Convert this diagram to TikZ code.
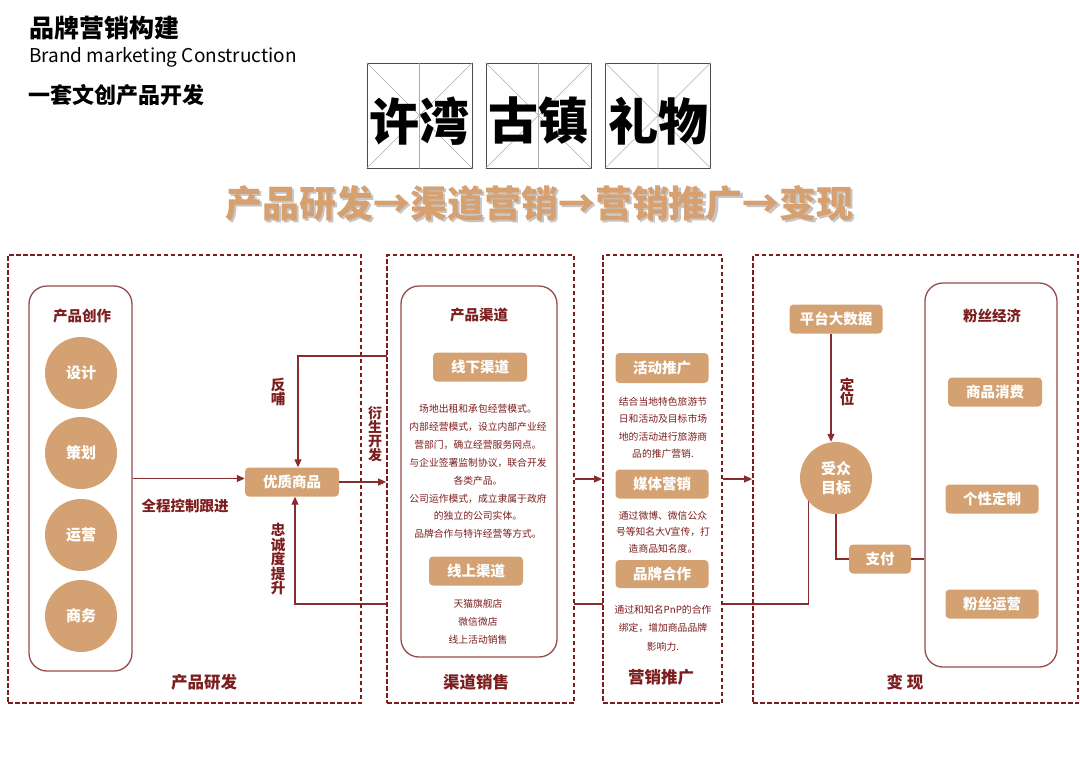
\documentclass[tikz,border=0pt]{standalone}
\usepackage{fontspec}
\setmainfont{Noto Sans CJK SC}
\usetikzlibrary{arrows.meta,backgrounds}
\definecolor{brandred}{RGB}{125,30,30}
\definecolor{linered}{RGB}{135,45,45}
\definecolor{framered}{RGB}{150,75,75}
\definecolor{tanfill}{RGB}{212,162,114}
\definecolor{tantext}{RGB}{214,160,112}

\tikzset{
    panel/.style={draw=brandred,line width=1.8pt,dash pattern=on 4.5pt off 2.5pt,inner sep=0pt},
    roundbox/.style={draw=framered,line width=1.3pt,rounded corners=18pt,inner sep=0pt},
    tanbox/.style={fill=tanfill,rounded corners=4pt,text=white,inner sep=0pt,
        minimum width=94pt,minimum height=29pt,font=\bfseries\fontsize{14.5}{16}\selectfont},
    tancirc/.style={circle,fill=tanfill,minimum size=72pt,inner sep=0pt,text=white,
        align=center,font=\bfseries\fontsize{15}{19}\selectfont},
    heading/.style={text=brandred,inner sep=0pt,font=\bfseries\fontsize{14.5}{16}\selectfont},
    bottomlabel/.style={text=brandred,inner sep=0pt,font=\bfseries\fontsize{16.5}{18}\selectfont},
    smalltext/.style={text=brandred,align=center,inner sep=0pt},
    vlabel/.style={text=brandred,align=center,inner sep=0pt,font=\bfseries\fontsize{14.5}{14.5}\selectfont},
    arr/.style={draw=linered,line width=1.1pt,-{Triangle[length=8pt,width=7pt]}},
    link/.style={draw=linered,line width=1.1pt},
    titlebox/.style={draw=black!70,line width=1pt,minimum size=105pt,inner sep=0pt},
    titletext/.style={inner sep=0pt,font=\bfseries\fontsize{50}{52}\selectfont}
}

\begin{document}
\begin{tikzpicture}[x=1pt,y=-1pt]

\useasboundingbox (0,0) rectangle (1080,772);

% Header
\node[anchor=west,inner sep=0pt,font=\bfseries\fontsize{25}{28}\selectfont] (head) at (29,28) {品牌营销构建};
\node[anchor=west,inner sep=0pt,font=\fontsize{19}{22}\selectfont] (headen) at (29,57) {Brand marketing Construction};
\node[anchor=west,inner sep=0pt,font=\bfseries\fontsize{22}{24}\selectfont] (subhead) at (28,95) {一套文创产品开发};

% Title boxes
\foreach \name/\x/\txt in {t1/419.5/许湾,t2/538.5/古镇,t3/658/礼物}{
    \node[titlebox] (\name) at (\x,115.5) {};
    \draw[gray!65,line width=0.6pt]
        (\name.north west) -- (\name.south east)
        (\name.north east) -- (\name.south west)
        (\name.north) -- (\name.south);
    \node[titletext] (\name txt) at (\x,121) {\txt};
}

% Flow line
\node[inner sep=0pt,text=gray,opacity=0.45,font=\bfseries\fontsize{37}{40}\selectfont] (flowshadow) at (541.5,205) {产品研发→渠道营销→营销推广→变现};
\node[inner sep=0pt,text=tantext,font=\bfseries\fontsize{37}{40}\selectfont] (flow) at (539.5,203) {产品研发→渠道营销→营销推广→变现};

% Panels
\node[panel,minimum width=353pt,minimum height=448pt] (p1) at (184.5,479) {};
\node[panel,fill=white,minimum width=187pt,minimum height=448pt] (p2) at (480.5,479) {};
\node[panel,fill=white,minimum width=119pt,minimum height=448pt] (p3) at (662.5,479) {};
\node[panel,minimum width=325pt,minimum height=448pt] (p4) at (915.5,479) {};

\node[bottomlabel] (p1lab) at (204,682) {产品研发};
\node[bottomlabel] (p2lab) at (476,682) {渠道销售};
\node[bottomlabel] (p3lab) at (661,677) {营销推广};
\node[bottomlabel] (p4lab) at (905,682) {变 现};

% Product creation
\node[roundbox,minimum width=103pt,minimum height=385pt] (r1) at (80.5,478.5) {};
\node[heading] (r1lab) at (82,316) {产品创作};
\foreach \y/\name/\txt in {373/c1/设计,453/c2/策划,535/c3/运营,616/c4/商务}{
    \node[tancirc] (\name) at (81,\y) {\txt};
}

\node[tanbox] (good) at (292,482) {优质商品};
\node[vlabel] (fblab) at (278,392) {反\\哺};
\node[vlabel] (loylab) at (278,559) {忠\\诚\\度\\提\\升};
\node[vlabel,font=\bfseries\fontsize{14}{14}\selectfont] (devlab) at (375,434) {衍\\生\\开\\发};
\node[text=brandred,inner sep=0pt,font=\bfseries\fontsize{14.5}{16}\selectfont] (ctrllab) at (185,506) {全程控制跟进};

% Channels
\node[roundbox,minimum width=156pt,minimum height=371pt] (r2) at (479,471.5) {};
\node[heading] (r2lab) at (479,315) {产品渠道};
\node[tanbox] (offline) at (480,367) {线下渠道};
\node[smalltext,font=\fontsize{9.8}{17.9}\selectfont] (offtxt) at (478,471.5)
    {场地出租和承包经营模式。\\内部经营模式，设立内部产业经\\营部门，确立经营服务网点。\\与企业签署监制协议，联合开发\\各类产品。\\公司运作模式，成立隶属于政府\\的独立的公司实体。\\品牌合作与特许经营等方式。};
\node[tanbox] (online) at (476,571) {线上渠道};
\node[smalltext,font=\fontsize{9.8}{18}\selectfont] (ontxt) at (478,622)
    {天猫旗舰店\\微信微店\\线上活动销售};

% Promotion
\node[tanbox,minimum width=93pt,minimum height=30pt] (act) at (662,368) {活动推广};
\node[smalltext,font=\fontsize{9.8}{17.4}\selectfont] (acttxt) at (663,428)
    {结合当地特色旅游节\\日和活动及目标市场\\地的活动进行旅游商\\品的推广营销.};
\node[tanbox,minimum width=93pt] (media) at (662,484) {媒体营销};
\node[smalltext,font=\fontsize{9.8}{16.5}\selectfont] (mediatxt) at (663,532)
    {通过微博、微信公众\\号等知名大V宣传，打\\造商品知名度。};
\node[tanbox,minimum width=93pt,minimum height=28pt] (brand) at (662,574) {品牌合作};
\node[smalltext,font=\fontsize{9.8}{18.5}\selectfont] (brandtxt) at (663,628)
    {通过和知名PnP的合作\\绑定，增加商品品牌\\影响力.};

% Monetisation
\node[tanbox,minimum width=93pt] (data) at (836,319) {平台大数据};
\node[tancirc] (aud) at (836,478) {受众\\目标};
\node[vlabel] (poslab) at (847,392) {定\\位};
\node[tanbox,minimum width=62pt] (pay) at (880,559) {支付};
\node[roundbox,minimum width=132pt,minimum height=384pt] (r4) at (991,475) {};
\node[heading] (r4lab) at (992,316) {粉丝经济};
\node[tanbox] (cons) at (995,392) {商品消费};
\node[tanbox,minimum width=93pt] (custom) at (992,499) {个性定制};
\node[tanbox,minimum width=93pt] (fanop) at (992,604) {粉丝运营};

% Connectors
\coordinate (fbin) at (387,356);
\coordinate (loyal) at (295,604);
\draw[arr] (r1.east) -- (r1.east -| good.west);
\draw[arr] (good.east) -- (good.east -| p2.west);
\draw[arr] (fbin) -| ([xshift=6pt]good.north);
\draw[arr] (p2.east) -- (p3.west);
\draw[arr] (p3.east) -- (p4.west);
\draw[arr] ([xshift=-5pt]data.south) -- ([xshift=-5pt]data.south |- aud.north);
\draw[link] (aud.south) |- (pay.west);
\draw[link] (pay.east) -- (pay.east -| r4.west);
\begin{scope}[on background layer]
\draw[arr] (aud.220) |- (loyal) -- (loyal |- good.south);
\end{scope}

\end{tikzpicture}
\end{document}
